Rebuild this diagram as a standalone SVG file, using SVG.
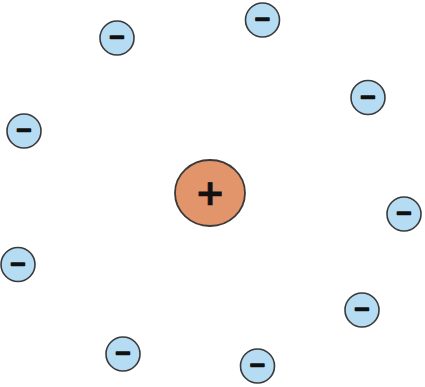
<svg xmlns="http://www.w3.org/2000/svg" width="425" height="387" viewBox="0 0 425 387">
<style>
.e ellipse{fill:#b5dcf3;stroke:#3a3a3a;stroke-width:1.6}
.e text{font-family:"DejaVu Sans",sans-serif;font-weight:bold;font-size:21px;text-anchor:middle;dominant-baseline:central;fill:#111;stroke:#111;stroke-width:1.4;stroke-linejoin:round}
.n ellipse{fill:#e2946b;stroke:#3a3a3a;stroke-width:1.8}
.n text{font-family:"DejaVu Sans",sans-serif;font-weight:bold;font-size:36px;text-anchor:middle;dominant-baseline:central;fill:#111;stroke:#111;stroke-width:0.6}
</style>
<rect width="425" height="387" fill="#fff"/>
<g id="nucleus" class="n"><ellipse cx="210" cy="193" rx="35" ry="33"/><text x="210" y="192">+</text></g>
<g id="e1" class="e"><ellipse cx="117" cy="38" rx="17" ry="17"/><text x="117" y="37">−</text></g>
<g id="e2" class="e"><ellipse cx="262.5" cy="20" rx="17" ry="17"/><text x="262.5" y="19">−</text></g>
<g id="e3" class="e"><ellipse cx="368" cy="97.5" rx="17" ry="17"/><text x="368" y="96.5">−</text></g>
<g id="e4" class="e"><ellipse cx="24" cy="131" rx="17" ry="17"/><text x="24" y="130">−</text></g>
<g id="e5" class="e"><ellipse cx="404" cy="214" rx="17" ry="17"/><text x="404" y="213">−</text></g>
<g id="e6" class="e"><ellipse cx="18" cy="264.5" rx="17" ry="17"/><text x="18" y="263.5">−</text></g>
<g id="e7" class="e"><ellipse cx="362" cy="310" rx="17" ry="17"/><text x="362" y="309">−</text></g>
<g id="e8" class="e"><ellipse cx="123" cy="354" rx="17" ry="17"/><text x="123" y="353">−</text></g>
<g id="e9" class="e"><ellipse cx="257.5" cy="366" rx="17" ry="17"/><text x="257.5" y="365">−</text></g>
<g id="connectors"/>
</svg>
